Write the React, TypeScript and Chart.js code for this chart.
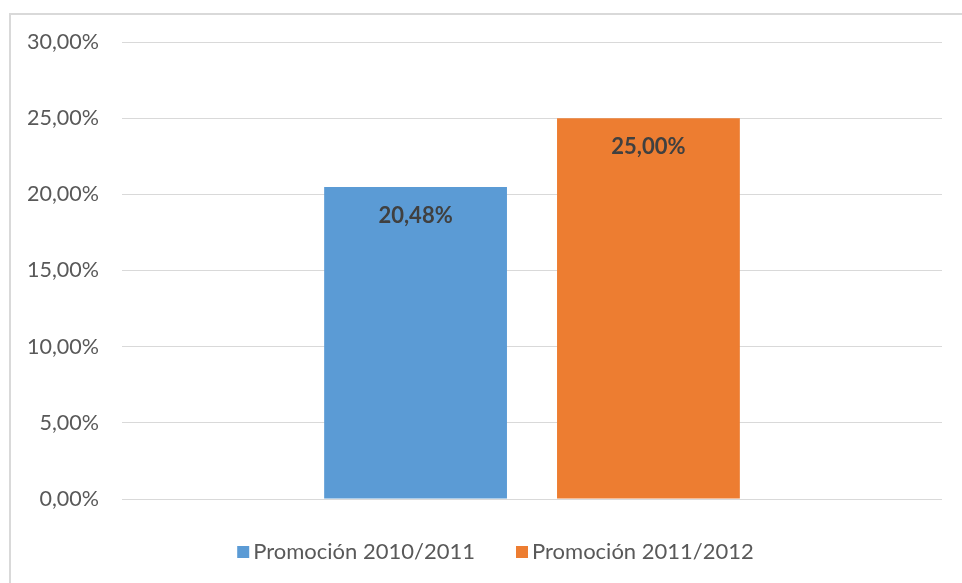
import React, { useEffect, useRef } from "react";
import { Chart, registerables } from "chart.js";

Chart.register(...registerables);

const categories = [""];
const seriesNames = ["Promoción 2010/2011", "Promoción 2011/2012"];
const seriesValues = [[20.48], [25.0]];
const seriesColors = ["#5B9BD5", "#ED7D31"];
const yTicks = [0, 5, 10, 15, 20, 25, 30];

const fmt = (v: number) => v.toFixed(2).replace(".", ",") + "%";
const FONT = "Lato, 'Open Sans', sans-serif";

const overlayPlugin = {
  id: "overlay",
  afterDatasetsDraw(chart: any) {
    const ctx = chart.ctx;
    ctx.save();
    // data labels
    ctx.font = `bold 22px ${FONT}`;
    ctx.fillStyle = "#404040";
    ctx.textAlign = "center";
    ctx.textBaseline = "middle";
    chart.data.datasets.forEach((ds: any, i: number) => {
      const meta = chart.getDatasetMeta(i);
      meta.data.forEach((bar: any, j: number) => {
        ctx.fillText(fmt(ds.data[j]), bar.x, bar.y + 29);
      });
    });
    // legend
    ctx.font = `22px ${FONT}`;
    ctx.textBaseline = "middle";
    ctx.textAlign = "left";
    const box = 12;
    const gapBoxText = 4;
    const gapItems = 41;
    const widths = seriesNames.map((n) => ctx.measureText(n).width);
    const total =
      widths.reduce((a, b) => a + b, 0) + seriesNames.length * (box + gapBoxText) + gapItems * (seriesNames.length - 1);
    let x = 495.5 - total / 2;
    const y = 552;
    seriesNames.forEach((n, i) => {
      ctx.fillStyle = seriesColors[i];
      ctx.fillRect(x, y - box / 2, box, box);
      x += box + gapBoxText;
      ctx.fillStyle = "#595959";
      ctx.fillText(n, x, y);
      x += widths[i] + gapItems;
    });
    ctx.restore();
  },
};

export default function App() {
  const ref = useRef<HTMLCanvasElement>(null);
  useEffect(() => {
    if (!ref.current) return;
    const chart = new Chart(ref.current, {
      type: "bar",
      data: {
        labels: categories,
        datasets: seriesNames.map((name, i) => ({
          label: name,
          data: seriesValues[i],
          backgroundColor: seriesColors[i],
          borderWidth: 0,
          categoryPercentage: 0.568,
          barPercentage: 0.785,
        })),
      },
      options: {
        animation: false,
        responsive: false,
        maintainAspectRatio: false,
        layout: { padding: { top: 42, right: 20, bottom: 84, left: 0 } },
        plugins: { legend: { display: false }, tooltip: { enabled: false } },
        scales: {
          x: { display: false },
          y: {
            min: 0,
            max: 30,
            afterFit: (s: any) => {
              s.width = 122;
            },
            afterBuildTicks: (s: any) => {
              s.ticks = yTicks.map((v) => ({ value: v }));
            },
            border: { display: false },
            grid: { color: "#D9D9D9", lineWidth: 1, drawTicks: false },
            ticks: {
              padding: 23,
              color: "#595959",
              font: { family: FONT, size: 21.5 },
              callback: (v: any) => fmt(Number(v)),
            },
          },
        },
      },
      plugins: [overlayPlugin],
    });
    return () => chart.destroy();
  }, []);
  return (
    <div style={{ position: "absolute", left: 0, top: 0, width: 962, height: 583, background: "#fff", overflow: "hidden" }}>
      <div
        style={{
          position: "absolute",
          left: 9,
          top: 13,
          width: 1000,
          height: 1000,
          border: "2px solid #D9D9D9",
        }}
      />
      <canvas ref={ref} width={962} height={583} style={{ position: "absolute", left: 0, top: 0 }} />
    </div>
  );
}
